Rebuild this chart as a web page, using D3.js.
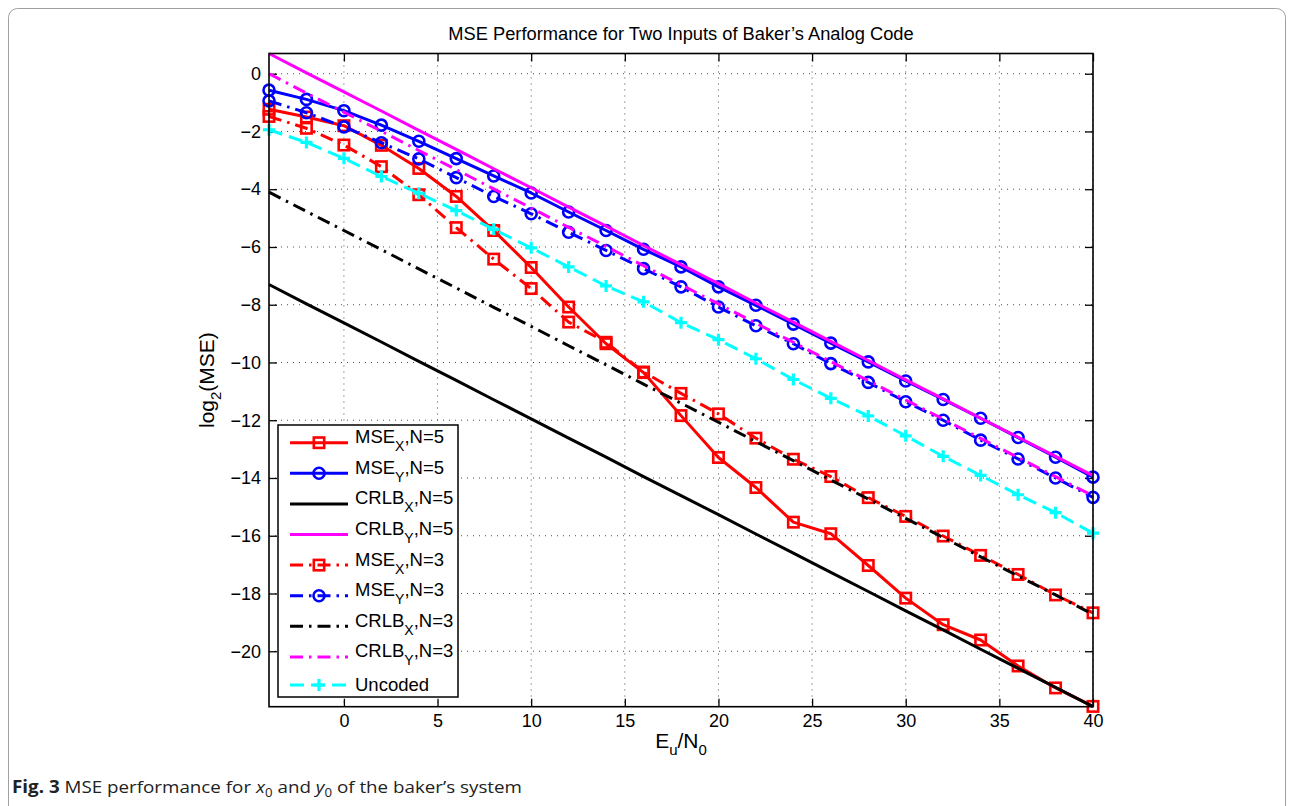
<!DOCTYPE html>
<html>
<head>
<meta charset="utf-8">
<script src="https://cdn.jsdelivr.net/npm/d3@7"></script>
<style>
  html, body { margin: 0; padding: 0; background: #fff; }
  svg { display: block; }
</style>
</head>
<body>
<svg id="chart" width="1294" height="806"></svg>
<script>
// Eu/N0 in dB
const snr = [-4,-2,0,2,4,6,8,10,12,14,16,18,20,22,24,26,28,30,32,34,36,38,40];

// log2(MSE) curves
const mseX_N5  = [-1.23,-1.50,-1.80,-2.48,-3.28,-4.25,-5.43,-6.71,-8.08,-9.35,-10.35,-11.84,-13.29,-14.33,-15.53,-15.93,-17.03,-18.16,-19.08,-19.61,-20.51,-21.27,-21.91];
const mseY_N5  = [-0.57,-0.89,-1.28,-1.78,-2.34,-2.94,-3.54,-4.13,-4.79,-5.43,-6.08,-6.69,-7.38,-8.02,-8.67,-9.33,-9.98,-10.64,-11.28,-11.93,-12.60,-13.28,-13.97];
const crlbX_N5 = [-7.30,-7.97,-8.63,-9.29,-9.96,-10.62,-11.29,-11.95,-12.62,-13.28,-13.95,-14.61,-15.27,-15.94,-16.60,-17.27,-17.93,-18.60,-19.26,-19.93,-20.59,-21.25,-21.92];
const crlbY_N5 = [0.70,0.03,-0.63,-1.29,-1.96,-2.62,-3.29,-3.95,-4.62,-5.28,-5.95,-6.61,-7.27,-7.94,-8.60,-9.27,-9.93,-10.60,-11.26,-11.93,-12.59,-13.25,-13.92];
const mseX_N3  = [-1.48,-1.89,-2.47,-3.22,-4.19,-5.33,-6.42,-7.44,-8.60,-9.30,-10.33,-11.07,-11.78,-12.62,-13.35,-13.95,-14.68,-15.33,-16.01,-16.68,-17.34,-18.05,-18.67];
const mseY_N3  = [-0.94,-1.35,-1.84,-2.39,-2.95,-3.60,-4.25,-4.85,-5.49,-6.12,-6.75,-7.38,-8.08,-8.73,-9.35,-10.04,-10.69,-11.36,-12.00,-12.69,-13.34,-14.00,-14.67];
const crlbX_N3 = [-4.10,-4.77,-5.43,-6.09,-6.76,-7.42,-8.09,-8.75,-9.42,-10.08,-10.75,-11.41,-12.07,-12.74,-13.40,-14.07,-14.73,-15.40,-16.06,-16.73,-17.39,-18.05,-18.72];
const crlbY_N3 = [0.00,-0.67,-1.33,-1.99,-2.66,-3.32,-3.99,-4.65,-5.32,-5.98,-6.65,-7.31,-7.97,-8.64,-9.30,-9.97,-10.63,-11.30,-11.96,-12.63,-13.29,-13.95,-14.62];
const uncoded  = [-1.94,-2.38,-2.93,-3.56,-4.14,-4.74,-5.39,-6.03,-6.69,-7.35,-7.90,-8.62,-9.21,-9.87,-10.59,-11.24,-11.85,-12.54,-13.25,-13.91,-14.58,-15.20,-15.91];

// axis ticks
const xTicks = [0,5,10,15,20,25,30,35,40];
const yTicks = [0,-2,-4,-6,-8,-10,-12,-14,-16,-18,-20];

// legend labels: [main, subscript, rest]
const legendLabels = [
  ["MSE","X",",N=5"],
  ["MSE","Y",",N=5"],
  ["CRLB","X",",N=5"],
  ["CRLB","Y",",N=5"],
  ["MSE","X",",N=3"],
  ["MSE","Y",",N=3"],
  ["CRLB","X",",N=3"],
  ["CRLB","Y",",N=3"],
  ["Uncoded","",""]
];

const DASH = "14,7";
const DASHDOT = "13,6,2.5,6";

const series = [
  { values: mseX_N5,  color: "#ff0000", dash: null,    marker: "square" },
  { values: mseY_N5,  color: "#0000ff", dash: null,    marker: "circle" },
  { values: crlbX_N5, color: "#000000", dash: null,    marker: null },
  { values: crlbY_N5, color: "#ff00ff", dash: null,    marker: null },
  { values: mseX_N3,  color: "#ff0000", dash: DASHDOT, marker: "square" },
  { values: mseY_N3,  color: "#0000ff", dash: DASHDOT, marker: "circle" },
  { values: crlbX_N3, color: "#000000", dash: DASHDOT, marker: null },
  { values: crlbY_N3, color: "#ff00ff", dash: DASHDOT, marker: null },
  { values: uncoded,  color: "#00ffff", dash: DASH,    marker: "plus" }
];

const FONT = "'Liberation Sans', Arial, Helvetica, sans-serif";
const LW = 3;

const svg = d3.select("#chart");
const plot = { left: 269, right: 1093, top: 53.5, bottom: 706.7 };

// tight limits, as in the original plot
const x = d3.scaleLinear().domain(d3.extent(snr)).range([plot.left, plot.right]);
const allVals = series.flatMap(s => s.values);
const y = d3.scaleLinear().domain(d3.extent(allVals)).range([plot.bottom, plot.top]);

// outer panel
svg.append("rect")
  .attr("x", 8.5).attr("y", 8.5).attr("width", 1277).attr("height", 830)
  .attr("rx", 9).attr("fill", "none").attr("stroke", "#a0a0a0").attr("stroke-width", 1);

// title
svg.append("text")
  .attr("x", (plot.left + plot.right) / 2).attr("y", 40)
  .attr("text-anchor", "middle")
  .attr("font-family", FONT).attr("font-size", 18.3).attr("fill", "#000")
  .text("MSE Performance for Two Inputs of Baker\u2019s Analog Code");

// dotted grid
const grid = svg.append("g")
  .attr("stroke", "#000").attr("stroke-width", 1)
  .attr("stroke-dasharray", "1,5").attr("opacity", 0.7);
grid.selectAll("line.gx").data(xTicks).join("line").attr("class", "gx")
  .attr("x1", d => x(d)).attr("x2", d => x(d))
  .attr("y1", plot.top).attr("y2", plot.bottom);
grid.selectAll("line.gy").data(yTicks).join("line").attr("class", "gy")
  .attr("y1", d => y(d)).attr("y2", d => y(d))
  .attr("x1", plot.left).attr("x2", plot.right);

// axes with inward ticks on all four sides
function styleAxis(g) {
  g.select(".domain").remove();
  g.attr("font-family", FONT).attr("font-size", 18);
  g.selectAll(".tick line").attr("stroke", "#000").attr("stroke-width", 1.3);
  g.selectAll(".tick text").attr("fill", "#000");
}
const fmt = d3.format("d");
svg.append("g").attr("transform", `translate(0,${plot.bottom})`)
  .call(d3.axisBottom(x).tickValues(xTicks).tickSizeInner(-8).tickSizeOuter(0).tickPadding(8).tickFormat(fmt))
  .call(styleAxis);
svg.append("g").attr("transform", `translate(0,${plot.top})`)
  .call(d3.axisTop(x).tickValues(xTicks).tickSizeInner(-8).tickSizeOuter(0).tickFormat(""))
  .call(styleAxis);
svg.append("g").attr("transform", `translate(${plot.left},0)`)
  .call(d3.axisLeft(y).tickValues(yTicks).tickSizeInner(-8).tickSizeOuter(0).tickPadding(8).tickFormat(fmt))
  .call(styleAxis);
svg.append("g").attr("transform", `translate(${plot.right},0)`)
  .call(d3.axisRight(y).tickValues(yTicks).tickSizeInner(-8).tickSizeOuter(0).tickFormat(""))
  .call(styleAxis);

// clip region for the curves
svg.append("clipPath").attr("id", "plotClip")
  .append("rect").attr("x", plot.left - 8).attr("y", plot.top - 8)
  .attr("width", plot.right - plot.left + 16).attr("height", plot.bottom - plot.top + 16);

function drawMarker(g, type, cx, cy, color) {
  if (type === "square") {
    g.append("rect").attr("x", cx - 5.2).attr("y", cy - 5.2).attr("width", 10.4).attr("height", 10.4)
      .attr("fill", "none").attr("stroke", color).attr("stroke-width", 2.6);
  } else if (type === "circle") {
    g.append("circle").attr("cx", cx).attr("cy", cy).attr("r", 5.5)
      .attr("fill", "none").attr("stroke", color).attr("stroke-width", 2.6);
  } else if (type === "plus") {
    g.append("path").attr("d", `M${cx - 6},${cy}H${cx + 6}M${cx},${cy - 6}V${cy + 6}`)
      .attr("fill", "none").attr("stroke", color).attr("stroke-width", 3.2);
  }
}

const line = d3.line().x(d => x(d[0])).y(d => y(d[1]));
const curves = svg.append("g").attr("clip-path", "url(#plotClip)");
series.forEach(s => {
  const pts = snr.map((v, i) => [v, s.values[i]]);
  const g = curves.append("g");
  g.append("path").attr("d", line(pts))
    .attr("fill", "none").attr("stroke", s.color).attr("stroke-width", LW)
    .attr("stroke-linejoin", "round")
    .attr("stroke-dasharray", s.dash);
  if (s.marker) pts.forEach(p => drawMarker(g, s.marker, x(p[0]), y(p[1]), s.color));
});

// axes box
svg.append("rect")
  .attr("x", plot.left).attr("y", plot.top)
  .attr("width", plot.right - plot.left).attr("height", plot.bottom - plot.top)
  .attr("fill", "none").attr("stroke", "#000").attr("stroke-width", 1.6);

// axis labels
const xl = svg.append("text")
  .attr("x", (plot.left + plot.right) / 2).attr("y", 748)
  .attr("text-anchor", "middle").attr("font-family", FONT).attr("font-size", 21);
xl.append("tspan").text("E");
xl.append("tspan").attr("font-size", 15).attr("dy", 7).text("u");
xl.append("tspan").attr("dy", -7).text("/N");
xl.append("tspan").attr("font-size", 15).attr("dy", 7).text("0");

const yl = svg.append("text")
  .attr("transform", `translate(214,${(plot.top + plot.bottom) / 2}) rotate(-90)`)
  .attr("text-anchor", "middle").attr("font-family", FONT).attr("font-size", 21);
yl.append("tspan").text("log");
yl.append("tspan").attr("font-size", 15).attr("dy", 7).text("2");
yl.append("tspan").attr("dy", -7).text("(MSE)");

// legend
const leg = svg.append("g");
leg.append("rect").attr("x", 278).attr("y", 425).attr("width", 180).attr("height", 272)
  .attr("fill", "#fff").attr("stroke", "#000").attr("stroke-width", 1.5);
series.forEach((s, i) => {
  const ry = i < 8 ? 442.7 + i * 30.6 : 685;
  const g = leg.append("g");
  g.append("line").attr("x1", 290).attr("x2", 348).attr("y1", ry).attr("y2", ry)
    .attr("stroke", s.color).attr("stroke-width", LW).attr("stroke-dasharray", s.dash);
  if (s.marker) drawMarker(g, s.marker, 319, ry, s.color);
  const lab = legendLabels[i];
  const t = g.append("text").attr("x", 355).attr("y", lab[1] ? ry + 0.5 : ry + 5.5)
    .attr("font-family", FONT).attr("font-size", 18.5).attr("fill", "#000");
  t.append("tspan").text(lab[0]);
  if (lab[1]) {
    t.append("tspan").attr("font-size", 14).attr("dy", 8).text(lab[1]);
    t.append("tspan").attr("dy", -8).text(lab[2]);
  }
});

// figure caption
const cap = svg.append("text")
  .attr("x", 12).attr("y", 793)
  .attr("font-family", "'Open Sans', 'Noto Sans', sans-serif").attr("font-size", 17).attr("fill", "#222")
  .attr("textLength", 510).attr("lengthAdjust", "spacingAndGlyphs");
cap.append("tspan").attr("font-weight", "bold").text("Fig. 3");
cap.append("tspan").text(" MSE performance for ");
cap.append("tspan").attr("font-style", "italic").text("x");
cap.append("tspan").attr("font-size", 12).attr("dy", 4).text("0");
cap.append("tspan").attr("dy", -4).text(" and ");
cap.append("tspan").attr("font-style", "italic").text("y");
cap.append("tspan").attr("font-size", 12).attr("dy", 4).text("0");
cap.append("tspan").attr("dy", -4).text(" of the baker\u2019s system");
</script>
</body>
</html>
